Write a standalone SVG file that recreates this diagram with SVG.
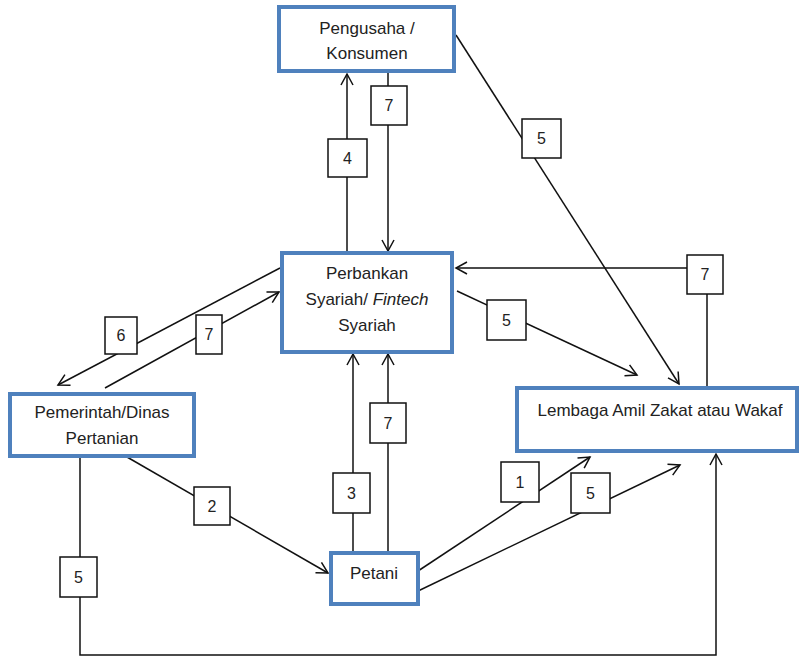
<svg xmlns="http://www.w3.org/2000/svg" width="802" height="661" viewBox="0 0 802 661">
<defs>
<marker id="arr" markerUnits="userSpaceOnUse" markerWidth="16" markerHeight="16" refX="12" refY="7" orient="auto" viewBox="0 0 16 14">
<path d="M1,1 L12,7 L1,13" fill="none" stroke="#111" stroke-width="1.5"/>
</marker>
<style>
.node{fill:#fff;stroke:#4F81BD;stroke-width:4}
.nt{font-family:"Liberation Sans",Arial,sans-serif;font-size:17px;fill:#222;text-anchor:middle}
.ln{fill:none;stroke:#111;stroke-width:1.5}
.lb{fill:#fff;stroke:#111;stroke-width:1.5}
.lt{font-family:"Liberation Sans",Arial,sans-serif;font-size:16px;fill:#222;text-anchor:middle}
</style>
</defs>
<rect width="802" height="661" fill="#fff"/>
<g id="connectors">
<line class="ln" x1="347" y1="252" x2="347" y2="74" marker-end="url(#arr)"/>
<line class="ln" x1="388" y1="73" x2="388" y2="251" marker-end="url(#arr)"/>
<line class="ln" x1="456" y1="35" x2="679" y2="384" marker-end="url(#arr)"/>
<path class="ln" d="M707,387 V268 H456" marker-end="url(#arr)"/>
<line class="ln" x1="457" y1="291" x2="637" y2="375" marker-end="url(#arr)"/>
<line class="ln" x1="280" y1="268" x2="58" y2="385" marker-end="url(#arr)"/>
<line class="ln" x1="105" y1="388" x2="279" y2="292" marker-end="url(#arr)"/>
<line class="ln" x1="127" y1="457" x2="328" y2="573" marker-end="url(#arr)"/>
<line class="ln" x1="353" y1="552" x2="353" y2="354" marker-end="url(#arr)"/>
<line class="ln" x1="388" y1="552" x2="388" y2="354" marker-end="url(#arr)"/>
<line class="ln" x1="415" y1="573" x2="590" y2="457" marker-end="url(#arr)"/>
<line class="ln" x1="416" y1="592" x2="680" y2="465" marker-end="url(#arr)"/>
<path class="ln" d="M80,458 V655 H716 V454" marker-end="url(#arr)"/>
<g id="labels">
<rect class="lb" x="328" y="139" width="39" height="38"/><text class="lt" x="347.5" y="164">4</text>
<rect class="lb" x="371" y="86" width="36" height="39"/><text class="lt" x="389" y="111">7</text>
<rect class="lb" x="522" y="119" width="39" height="39"/><text class="lt" x="541.5" y="144">5</text>
<rect class="lb" x="687" y="255" width="36" height="39"/><text class="lt" x="705" y="280">7</text>
<rect class="lb" x="487" y="300" width="39" height="40"/><text class="lt" x="506.5" y="326">5</text>
<rect class="lb" x="105" y="317" width="32" height="37"/><text class="lt" x="121" y="341">6</text>
<rect class="lb" x="196" y="315" width="26" height="39"/><text class="lt" x="209" y="340">7</text>
<rect class="lb" x="194" y="487" width="36" height="38"/><text class="lt" x="212" y="512">2</text>
<rect class="lb" x="333" y="473" width="37" height="40"/><text class="lt" x="351.5" y="499">3</text>
<rect class="lb" x="370" y="403" width="36" height="40"/><text class="lt" x="388" y="429">7</text>
<rect class="lb" x="501" y="462" width="38" height="40"/><text class="lt" x="520" y="488">1</text>
<rect class="lb" x="571" y="473" width="39" height="40"/><text class="lt" x="590.5" y="499">5</text>
<rect class="lb" x="60" y="557" width="37" height="40"/><text class="lt" x="78.5" y="583">5</text>
</g>
</g>
<g id="pengusaha">
<rect class="node" x="279" y="7" width="175" height="64"/>
<text class="nt" x="367" y="34">Pengusaha /</text>
<text class="nt" x="367" y="59">Konsumen</text>
</g>
<g id="perbankan">
<rect class="node" x="282" y="253" width="170" height="99"/>
<text class="nt" x="367" y="279">Perbankan</text>
<text class="nt" x="367" y="305">Syariah/ <tspan font-style="italic">Fintech</tspan></text>
<text class="nt" x="367" y="331">Syariah</text>
</g>
<g id="pemerintah">
<rect class="node" x="10" y="394" width="184" height="62"/>
<text class="nt" x="102" y="418">Pemerintah/Dinas</text>
<text class="nt" x="102" y="444">Pertanian</text>
</g>
<g id="lembaga">
<rect class="node" x="517" y="388" width="280" height="63"/>
<text class="nt" x="660" y="416">Lembaga Amil Zakat atau Wakaf</text>
</g>
<g id="petani">
<rect class="node" x="331" y="553" width="87" height="51"/>
<text class="nt" x="374" y="579">Petani</text>
</g>
</svg>
